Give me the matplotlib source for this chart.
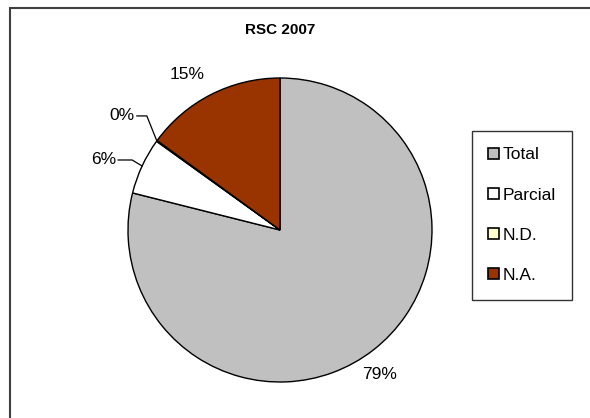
import numpy as np
import matplotlib.pyplot as plt
from matplotlib.patches import Rectangle

# datos del grafico
labels = ['Total', 'Parcial', 'N.D.', 'N.A.']
values = [79, 6, 0.1, 15]
pct_text = ['79%', '6%', '0%', '15%']
colors = ['#C0C0C0', '#FFFFFF', '#FFFFCC', '#993300']

plt.rcParams['font.family'] = ['Liberation Sans', 'DejaVu Sans']

W, H = 590, 418
fig = plt.figure(figsize=(W / 100, H / 100), dpi=100)
ax = fig.add_axes([0, 0, 1, 1])

cx, cy, r = 280, H - 230, 152
wedges, _ = ax.pie(values, colors=colors, startangle=90, counterclock=False,
                   center=(cx, cy), radius=r,
                   wedgeprops=dict(edgecolor='black', linewidth=1.0))
ax.set_xlim(0, W)
ax.set_ylim(0, H)
ax.set_aspect('equal')
ax.axis('off')

# borde del area del grafico
ax.add_patch(Rectangle((10, -20), W, H - 8 + 20, fill=False,
                       edgecolor='#404040', linewidth=1.5))

ax.text(cx, H - 30, 'RSC 2007', ha='center', va='center',
        fontsize=11, fontweight='bold')

def edge_point(w, f=1.0):
    ang = np.deg2rad((w.theta1 + w.theta2) / 2)
    return cx + r * f * np.cos(ang), cy + r * f * np.sin(ang)

# 79% y 15% directamente fuera del sector
for i, nx, ny in ((0, -8, -7), (3, -14, 0)):
    x, y = edge_point(wedges[i], 1.15)
    ax.text(x + nx, y + ny, pct_text[i], ha='center', va='center', fontsize=12.5)

# 6% y 0% con linea guia
for i, dx, dy in ((1, -28, 6), (2, -24, 25)):
    x0, y0 = edge_point(wedges[i])
    xk, yk = x0 - 10, y0 + dy
    ax.plot([x0, xk, xk + dx + 14], [y0, yk, yk], color='black', linewidth=0.9)
    ax.text(xk + dx + 12, yk, pct_text[i], ha='right', va='center', fontsize=12.5)

leg = ax.legend(wedges, labels, loc='upper left',
                bbox_to_anchor=(472 / W, 1 - 131 / H), frameon=True,
                fancybox=False, edgecolor='black', fontsize=12.5,
                handlelength=0.6, handleheight=0.6, handletextpad=0.2,
                labelspacing=1.45, borderpad=0.95, borderaxespad=0)
leg.get_frame().set_linewidth(1.0)
for h in leg.legend_handles:
    h.set_linewidth(1.2)

fig.savefig('out.png', dpi=100, facecolor='white')
